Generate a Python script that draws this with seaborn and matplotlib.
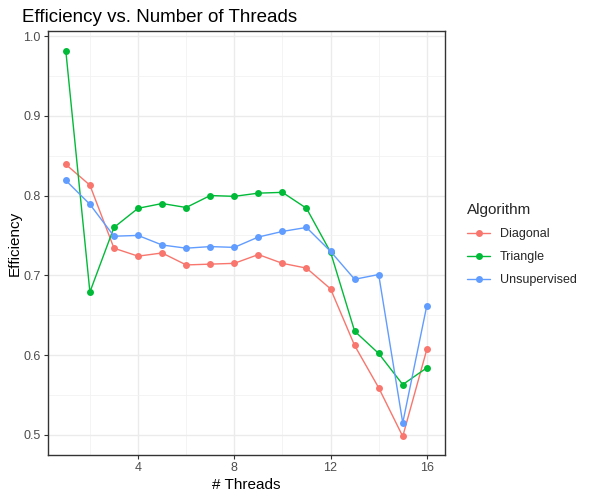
import matplotlib
matplotlib.use("Agg")
import matplotlib.pyplot as plt
import seaborn as sns
import pandas as pd
from matplotlib.lines import Line2D

# Data
threads = list(range(1, 17))
diagonal = [0.839, 0.813, 0.734, 0.724, 0.728, 0.713, 0.714, 0.715,
            0.726, 0.715, 0.709, 0.683, 0.612, 0.559, 0.498, 0.607]
triangle = [0.981, 0.679, 0.760, 0.784, 0.790, 0.785, 0.800, 0.799,
            0.803, 0.804, 0.784, 0.729, 0.630, 0.602, 0.563, 0.584]
unsupervised = [0.819, 0.789, 0.749, 0.750, 0.738, 0.734, 0.736, 0.735,
                0.748, 0.755, 0.760, 0.730, 0.695, 0.701, 0.515, 0.662]
algorithms = ["Diagonal", "Triangle", "Unsupervised"]
x_ticks = [4, 8, 12, 16]
y_ticks = [0.5, 0.6, 0.7, 0.8, 0.9, 1.0]

df = pd.DataFrame({
    "Threads": threads * 3,
    "Efficiency": diagonal + triangle + unsupervised,
    "Algorithm": [a for a in algorithms for _ in threads],
})

colors = {"Diagonal": "#F8766D", "Triangle": "#00BA38", "Unsupervised": "#619CFF"}

sns.set_theme(style="whitegrid")
plt.rcParams["font.family"] = ["Liberation Sans", "DejaVu Sans"]

fig = plt.figure(figsize=(5.9, 5.0), dpi=100)
ax = fig.add_axes([0.081, 0.09, 0.673, 0.848])

sns.lineplot(data=df, x="Threads", y="Efficiency", hue="Algorithm",
             palette=colors, marker="o", markersize=5, markeredgewidth=0,
             linewidth=1.0, ax=ax, legend=False)

ax.set_xlim(0.25, 16.75)
ax.set_ylim(0.4747, 1.0063)
ax.set_xticks(x_ticks)
ax.set_xticks([2, 6, 10, 14], minor=True)
ax.set_yticks(y_ticks)
ax.set_yticks([0.55, 0.65, 0.75, 0.85, 0.95], minor=True)
ax.set_yticklabels([f"{v:.1f}" for v in y_ticks])
ax.grid(True, which="major", color="#EBEBEB", linewidth=1.0)
ax.grid(True, which="minor", color="#F2F2F2", linewidth=0.6)
ax.set_axisbelow(True)
ax.set_facecolor("white")
for s in ax.spines.values():
    s.set_color("#333333")
    s.set_linewidth(1.0)
ax.tick_params(axis="both", which="major", length=3, width=0.8, color="#333333",
               labelsize=9, labelcolor="#4D4D4D", pad=2, bottom=True, left=True)
ax.tick_params(axis="both", which="minor", length=0)

ax.set_xlabel("# Threads", fontsize=11, color="black", labelpad=3)
ax.set_ylabel("Efficiency", fontsize=11, color="black", labelpad=1)
fig.text(0.037, 0.964, "Efficiency vs. Number of Threads", fontsize=13.5,
         ha="left", va="center", color="black")

handles = [Line2D([0], [0], color=colors[a], marker="o", markersize=5,
                  markeredgewidth=0, linewidth=1.0) for a in algorithms]
leg = fig.legend(handles, algorithms, title="Algorithm", loc="center left",
                 bbox_to_anchor=(0.773, 0.511), frameon=False, fontsize=9,
                 title_fontsize=11, handlelength=1.8, labelspacing=0.9,
                 handletextpad=0.8)
leg._legend_box.align = "left"

fig.savefig("out.png", dpi=100)
